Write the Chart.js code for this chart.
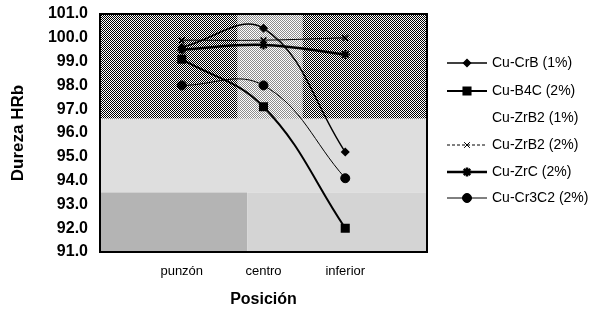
<!DOCTYPE html>
<html>
<head>
<meta charset="utf-8">
<script src="https://cdn.jsdelivr.net/npm/chart.js@4.4.1/dist/chart.umd.min.js"></script>
<style>
html,body{margin:0;padding:0;background:#fff;}
#wrap{width:600px;height:309px;}
</style>
</head>
<body>
<div id="wrap"><canvas id="c" width="600" height="309"></canvas></div>
<script>
const categories = ['punzón', 'centro', 'inferior'];
const yTicks = [91, 92, 93, 94, 95, 96, 97, 98, 99, 100, 101];
const cuCrB1   = [99.6, 100.4, 95.2];
const cuB4C2   = [99.1, 97.1, 92.0];
const cuZrB2_1 = [null, null, null];
const cuZrB2_2 = [99.9, 99.9, 100.0];
const cuZrC2   = [99.5, 99.7, 99.3];
const cuCr3C2  = [98.0, 98.0, 94.1];

const pts = arr => arr.map((v, i) => ({x: i, y: v}));

function checker() {
  const c = document.createElement('canvas');
  c.width = 2; c.height = 2;
  const g = c.getContext('2d');
  g.fillStyle = '#ffffff';
  g.fillRect(0, 0, 2, 2);
  g.fillStyle = '#000';
  g.fillRect(0, 0, 1, 1);
  g.fillRect(1, 1, 1, 1);
  return g.createPattern(c, 'repeat');
}

const bgPlugin = {
  id: 'bg',
  beforeDatasetsDraw(chart) {
    const {ctx, chartArea: a} = chart;
    const h = a.bottom - a.top, w = a.right - a.left;
    ctx.save();
    ctx.fillStyle = checker();
    ctx.fillRect(a.left, a.top, w, h * 0.44);
    ctx.fillStyle = 'rgba(255,255,255,0.55)';
    ctx.fillRect(a.left + w * 0.42, a.top, w * 0.2, h * 0.44);
    ctx.fillStyle = '#dedede';
    ctx.fillRect(a.left, a.top + h * 0.44, w, h * 0.31);
    ctx.fillStyle = '#b4b4b4';
    ctx.fillRect(a.left, a.top + h * 0.75, w * 0.45, h * 0.25);
    ctx.fillStyle = '#d4d4d4';
    ctx.fillRect(a.left + w * 0.45, a.top + h * 0.75, w * 0.55, h * 0.25);
    ctx.restore();
  }
};

const legendPlugin = {
  id: 'customLegend',
  afterDraw(chart) {
    const ctx = chart.ctx;
    const x0 = 447, x1 = 487, tx = 492;
    const ys = [63, 91, 118, 145, 172, 198];
    ctx.save();
    ctx.font = '14px "Liberation Sans", Arial, sans-serif';
    ctx.textBaseline = 'middle';
    chart.data.datasets.forEach((ds, i) => {
      const y = ys[i];
      if (ds.legendLine !== false) {
        ctx.strokeStyle = '#000';
        ctx.lineWidth = ds.borderWidth;
        ctx.setLineDash(ds.legendDash || []);
        ctx.beginPath(); ctx.moveTo(x0, y); ctx.lineTo(x1, y); ctx.stroke();
        ctx.setLineDash([]);
        Chart.helpers.drawPoint(ctx, {
          pointStyle: ds.pointStyle, radius: ds.pointRadius,
          borderWidth: ds.pointBorderWidth || 1, rotation: 0
        }, (x0 + x1) / 2, y);
      }
      ctx.fillStyle = '#000';
      ctx.fillText(ds.label, tx, y);
    });
    ctx.restore();
  }
};

const common = {
  borderColor: '#000', backgroundColor: '#000',
  pointBorderColor: '#000', pointBackgroundColor: '#000',
  tension: 0.4, fill: false
};
const FONT = '"Liberation Sans", Arial, sans-serif';

new Chart(document.getElementById('c'), {
  type: 'line',
  data: {
    datasets: [
      Object.assign({}, common, {label: 'Cu-CrB (1%)', data: pts(cuCrB1), borderWidth: 1.5, pointStyle: 'rectRot', pointRadius: 3.5}),
      Object.assign({}, common, {label: 'Cu-B4C (2%)', data: pts(cuB4C2), borderWidth: 2, pointStyle: 'rect', pointRadius: 5}),
      Object.assign({}, common, {label: 'Cu-ZrB2 (1%)', data: pts(cuZrB2_1), borderWidth: 0, pointRadius: 0, legendLine: false}),
      Object.assign({}, common, {label: 'Cu-ZrB2 (2%)', data: pts(cuZrB2_2), borderWidth: 1, legendDash: [3, 2], pointStyle: 'crossRot', pointRadius: 4, pointBorderWidth: 1.5}),
      Object.assign({}, common, {label: 'Cu-ZrC (2%)', data: pts(cuZrC2), borderWidth: 2.5, pointStyle: 'star', pointRadius: 4.5, pointBorderWidth: 2}),
      Object.assign({}, common, {label: 'Cu-Cr3C2 (2%)', data: pts(cuCr3C2), borderWidth: 1, pointStyle: 'circle', pointRadius: 4.5})
    ]
  },
  options: {
    responsive: false,
    animation: false,
    devicePixelRatio: 1,
    layout: {padding: {left: 0, right: 173, top: 14, bottom: 0}},
    plugins: {legend: {display: false}, tooltip: {enabled: false}},
    scales: {
      x: {
        type: 'linear', min: -1, max: 3,
        afterBuildTicks: s => { s.ticks = categories.map((c, i) => ({value: i})); },
        afterFit: s => { s.height = 57; s.paddingLeft = 0; s.paddingRight = 0; },
        grid: {display: false, drawTicks: false},
        border: {display: true, color: '#000', width: 2},
        ticks: {
          callback: v => categories[v] || '',
          color: '#000', padding: 12,
          font: {family: FONT, size: 13}
        },
        title: {display: true, text: 'Posición', color: '#000', padding: {top: 4, bottom: 0},
          font: {family: FONT, size: 16, weight: 'bold'}}
      },
      y: {
        min: 91, max: 101,
        afterBuildTicks: s => { s.ticks = yTicks.map(v => ({value: v})); },
        afterFit: s => { s.width = 100; s.paddingTop = 0; s.paddingBottom = 0; },
        grid: {display: false, drawTicks: false},
        border: {display: true, color: '#000', width: 2},
        ticks: {
          callback: v => v.toFixed(1),
          color: '#000', padding: 12,
          font: {family: FONT, size: 16, weight: 'bold'}
        },
        title: {display: true, text: 'Dureza HRb', color: '#000', padding: {top: 8, bottom: 0},
          font: {family: FONT, size: 17, weight: 'bold'}}
      }
    }
  },
  plugins: [bgPlugin, legendPlugin,
    {id: 'frame', afterDatasetsDraw(chart) {
      const {ctx, chartArea: a} = chart;
      ctx.save(); ctx.strokeStyle = '#000'; ctx.lineWidth = 2;
      ctx.strokeRect(a.left, a.top, a.right - a.left, a.bottom - a.top);
      ctx.restore();
    }}]
});
</script>
</body>
</html>
